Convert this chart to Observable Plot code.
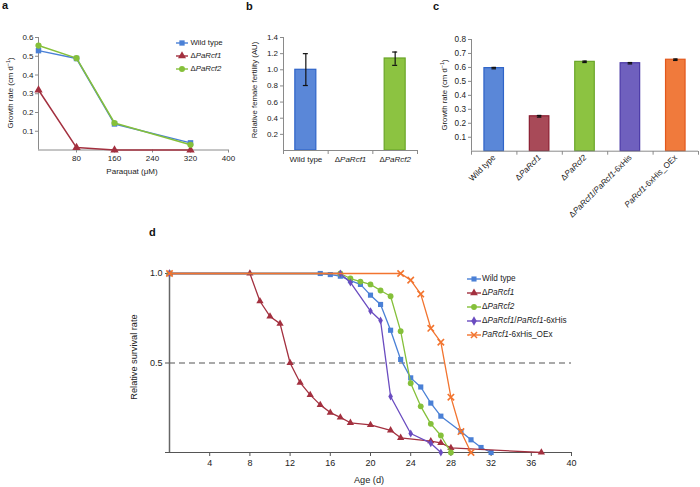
<!DOCTYPE html>
<html><head><meta charset="utf-8">
<script src="https://cdn.jsdelivr.net/npm/d3@7"></script>
<script src="https://cdn.jsdelivr.net/npm/@observablehq/plot@0.6"></script>
<style>
body{margin:0;background:#fff;}
#root{position:relative;width:700px;height:487px;font-family:"Liberation Sans",Arial,Helvetica,sans-serif;color:#222;overflow:hidden;background:#fff;}
.ytitle{position:absolute;white-space:nowrap;transform:translate(-50%,-50%) rotate(-90deg);line-height:1;}
.xtitle{position:absolute;white-space:nowrap;transform:translate(-50%,-50%);line-height:1;}
.letter{position:absolute;font-weight:bold;font-size:11px;line-height:11px;color:#111;}
.lg{position:absolute;white-space:nowrap;line-height:1;display:flex;align-items:center;}
sup{font-size:70%;vertical-align:super;line-height:0;}
</style></head><body><div id="root"></div>
<script>
// ---------- DATA ----------
// panel a: growth rate vs paraquat
const paraquat = [0, 80, 160, 320];
const growthA_wt = [0.53, 0.488, 0.139, 0.038];
const growthA_rcf1 = [0.32, 0.013, 0, 0];
const growthA_rcf2 = [0.557, 0.49, 0.144, 0.028];
const seriesA = ["Wild type", "ΔPaRcf1", "ΔPaRcf2"];

// panel b: relative female fertility
const fertCats = ["Wild type", "ΔPaRcf1", "ΔPaRcf2"];
const fertVals = [1.0, 0, 1.14];
const fertLo = [0.805, null, 1.055];
const fertHi = [1.2, null, 1.22];

// panel c: growth rate
const growthCats = ["Wild type", "ΔPaRcf1", "ΔPaRcf2", "ΔPaRcf1/PaRcf1-6xHis", "PaRcf1-6xHis_OEx"];
const growthVals = [0.595, 0.25, 0.64, 0.63, 0.655];
const growthErr = [0.005, 0.006, 0.005, 0.005, 0.005];

// panel d: survival
const seriesD = ["Wild type", "ΔPaRcf1", "ΔPaRcf2", "ΔPaRcf1/PaRcf1-6xHis", "PaRcf1-6xHis_OEx"];
const age_wt = [0, 15, 16, 17, 18, 19, 20, 21, 22, 23, 24, 25, 26, 27, 29, 30, 31, 32];
const surv_wt = [1, 1, 0.994, 0.985, 0.96, 0.939, 0.879, 0.827, 0.683, 0.52, 0.417, 0.366, 0.276, 0.203, 0.117, 0.071, 0.028, 0];
const age_rcf1 = [0, 8, 9, 10, 11, 12, 13, 14, 15, 16, 17, 18, 20, 22, 23, 26, 27, 28, 37];
const surv_rcf1 = [1, 1, 0.845, 0.76, 0.72, 0.5, 0.39, 0.322, 0.266, 0.223, 0.196, 0.166, 0.154, 0.124, 0.082, 0.063, 0.054, 0.026, 0];
const age_rcf2 = [0, 17, 18, 19, 20, 21, 22, 23, 24, 25, 26, 27, 28];
const surv_rcf2 = [1, 1, 0.972, 0.955, 0.939, 0.905, 0.873, 0.678, 0.387, 0.258, 0.16, 0.095, 0];
const age_comp = [0, 17, 18, 20, 21, 22, 24, 26, 27];
const surv_comp = [1, 1, 0.95, 0.79, 0.737, 0.313, 0.106, 0.052, 0];
const age_oex = [0, 23, 24, 25, 26, 27, 28, 29, 30];
const surv_oex = [1, 1, 0.963, 0.885, 0.694, 0.616, 0.309, 0.117, 0];
const ageTicks = [4, 8, 12, 16, 20, 24, 28, 32, 36, 40];

// ---------- STYLE ----------
const FONT = "'Liberation Sans', Arial, Helvetica, sans-serif";
const AX = "#8a8a8a";
const C_WT = "#4a80d6", C_R1 = "#a3303f", C_R2 = "#85c03a", C_CO = "#6a4cc0", C_OE = "#f2742f";
const barFillB = ["#5a87d8", "#a84a58", "#8cc341"];
const barStrokeB = ["#2f64c8", "#8a1d30", "#6aa528"];
const barFillC = ["#5a87d8", "#a84a58", "#8cc341", "#6f60be", "#f07a3c"];
const barStrokeC = ["#2f64c8", "#8a1d30", "#6aa528", "#4a38a6", "#e2581c"];

const root = document.getElementById("root");
function place(node, left, top) {
  node.style.position = "absolute"; node.style.left = left + "px"; node.style.top = top + "px";
  root.appendChild(node); return node;
}
function rich(s) {
  return s.replace(/(PaRcf\d)/g, "<i>$1</i>");
}
function italicize(svg) {
  svg.querySelectorAll("text").forEach(t => {
    const s = t.textContent;
    if (!/PaRcf/.test(s) || t.querySelector("tspan")) return;
    const parts = s.split(/(PaRcf\d)/);
    t.textContent = "";
    parts.forEach(p => {
      if (!p) return;
      const ts = document.createElementNS("http://www.w3.org/2000/svg", "tspan");
      if (/^PaRcf\d$/.test(p)) ts.setAttribute("font-style", "italic");
      ts.textContent = p; t.appendChild(ts);
    });
  });
}
function addText(cls, html, x, y, size) {
  const d = document.createElement("div");
  d.className = cls; d.innerHTML = html;
  d.style.left = x + "px"; d.style.top = y + "px"; d.style.fontSize = size + "px";
  root.appendChild(d); return d;
}
const symMap = {square: d3.symbolSquare, triangle: d3.symbolTriangle, circle: d3.symbolCircle, diamond: d3.symbolDiamond, times: d3.symbolTimes};
function addLegend(names, colors, symbols, x0, y0, dy, lineLen, gap, size, area) {
  names.forEach((n, i) => {
    const row = document.createElement("div");
    row.className = "lg";
    row.style.left = x0 + "px"; row.style.top = (y0 + i * dy - 6) + "px"; row.style.height = "12px";
    row.style.fontSize = size + "px";
    const svg = d3.create("svg").attr("width", lineLen).attr("height", 12).style("overflow", "visible").style("margin-right", gap + "px");
    svg.append("line").attr("x1", 0).attr("x2", lineLen).attr("y1", 6).attr("y2", 6).attr("stroke", colors[i]).attr("stroke-width", 1.4);
    const stroked = symbols[i] === "times";
    svg.append("path").attr("transform", `translate(${lineLen / 2},6)`)
      .attr("d", d3.symbol(symMap[symbols[i]], area)())
      .attr("fill", stroked ? "none" : colors[i]).attr("stroke", stroked ? colors[i] : "none").attr("stroke-width", 1.5);
    row.appendChild(svg.node());
    const sp = document.createElement("span"); sp.innerHTML = rich(n); row.appendChild(sp);
    root.appendChild(row);
  });
}
const baseStyle = size => ({fontFamily: FONT, fontSize: size + "px", color: "#222", background: "transparent", overflow: "visible"});

// ---------- PANEL A ----------
const symA = ["square", "triangle", "circle"];
const colA = [C_WT, C_R1, C_R2];
const valsA = [growthA_wt, growthA_rcf1, growthA_rcf2];
const plotA = Plot.plot({
  width: 240, height: 180, marginLeft: 38, marginRight: 12, marginTop: 37, marginBottom: 30.5,
  style: baseStyle(8),
  x: {domain: [0, 400]}, y: {domain: [0, 0.6]},
  marks: [
    Plot.ruleY([0], {stroke: AX}),
    Plot.ruleX([0], {stroke: AX}),
    Plot.axisX({ticks: [80, 160, 240, 320, 400], tickSize: 3, tickPadding: 2, stroke: AX, label: null}),
    Plot.axisY({ticks: [0.1, 0.2, 0.3, 0.4, 0.5, 0.6], tickSize: 3, tickPadding: 2, stroke: AX, label: null, tickFormat: d => d.toFixed(1)}),
    ...valsA.flatMap((v, i) => [
      Plot.line(paraquat, {x: paraquat, y: v, stroke: colA[i], strokeWidth: 1.5}),
      Plot.dot(paraquat, {x: paraquat, y: v, symbol: symA[i], fill: colA[i], r: 3.1})
    ])
  ]
});
place(plotA, 0, 0);
addText("ytitle", "Growth rate (cm d<sup>−1</sup>)", 11, 93, 7.8);
addText("xtitle", "Paraquat (μM)", 132, 172, 8);
addLegend(seriesA, colA, symA, 176, 42.7, 13.3, 12, 2.5, 7.8, 28);

// ---------- PANEL B ----------
const wB = 200, mlB = 53, mrB = 13, stepB = (wB - mlB - mrB) / fertCats.length;
const errB = fertCats.map((c, i) => ({c, lo: fertLo[i], hi: fertHi[i]})).filter(d => d.hi != null);
const plotB = Plot.plot({
  width: wB, height: 180, marginLeft: mlB, marginRight: mrB, marginTop: 37, marginBottom: 30,
  style: baseStyle(8),
  x: {domain: fertCats, paddingInner: 0.53, paddingOuter: 0.265, round: false},
  y: {domain: [0, 1.4]},
  color: {type: "identity"},
  marks: [
    Plot.barY(fertCats, {x: fertCats, y: fertVals, fill: barFillB, stroke: barStrokeB, strokeWidth: 1.2}),
    Plot.ruleY([0], {stroke: AX}),
    Plot.ruleX([fertCats[0]], {dx: -stepB / 2, stroke: AX}),
    Plot.ruleX(fertCats, {dx: -stepB / 2, stroke: AX, insetTop: 113, insetBottom: -4}),
    Plot.ruleX([fertCats[fertCats.length - 1]], {dx: stepB / 2, stroke: AX, insetTop: 113, insetBottom: -4}),
    Plot.axisX({tickSize: 0, tickPadding: 6, label: null}),
    Plot.axisY({ticks: [0.2, 0.4, 0.6, 0.8, 1.0, 1.2, 1.4], tickSize: 3, tickPadding: 2.5, stroke: AX, label: null, tickFormat: d => d.toFixed(1)}),
    Plot.ruleX(errB, {x: "c", y1: "lo", y2: "hi", stroke: "#111", strokeWidth: 1.2}),
    Plot.tickY(errB, {x: "c", y: "lo", stroke: "#111", strokeWidth: 1.2, insetLeft: 8, insetRight: 8}),
    Plot.tickY(errB, {x: "c", y: "hi", stroke: "#111", strokeWidth: 1.2, insetLeft: 8, insetRight: 8})
  ]
});
italicize(plotB);
place(plotB, 230, 0);
addText("ytitle", "Relative female fertility (AU)", 255, 90, 7.8);

// ---------- PANEL C ----------
const wC = 270, mlC = 41, mrC = 2, stepC = (wC - mlC - mrC) / growthCats.length;
const errC = growthCats.map((c, i) => ({c, lo: growthVals[i] - growthErr[i], hi: growthVals[i] + growthErr[i]}));
const plotC = Plot.plot({
  width: wC, height: 240, marginLeft: mlC, marginRight: mrC, marginTop: 39, marginBottom: 89.3,
  style: baseStyle(8.2),
  x: {domain: growthCats, paddingInner: 0.57, paddingOuter: 0.285, round: false},
  y: {domain: [0, 0.8]},
  color: {type: "identity"},
  marks: [
    Plot.barY(growthCats, {x: growthCats, y: growthVals, fill: barFillC, stroke: barStrokeC, strokeWidth: 1.2}),
    Plot.ruleY([0], {stroke: AX}),
    Plot.ruleX([growthCats[0]], {dx: -stepC / 2, stroke: AX}),
    Plot.ruleX(growthCats, {dx: -stepC / 2, stroke: AX, insetTop: 112, insetBottom: -4}),
    Plot.ruleX([growthCats[growthCats.length - 1]], {dx: stepC / 2, stroke: AX, insetTop: 112, insetBottom: -4}),
    Plot.axisX({tickSize: 0, tickPadding: 5, tickRotate: -45, label: null}),
    Plot.axisY({ticks: [0.1, 0.2, 0.3, 0.4, 0.5, 0.6, 0.7, 0.8], tickSize: 3, tickPadding: 2.5, stroke: AX, label: null, tickFormat: d => d.toFixed(1)}),
    Plot.ruleX(errC, {x: "c", y1: "lo", y2: "hi", stroke: "#111", strokeWidth: 3}),
    Plot.tickY(errC, {x: "c", y: "lo", stroke: "#111", strokeWidth: 1.2, insetLeft: 7.5, insetRight: 7.5}),
    Plot.tickY(errC, {x: "c", y: "hi", stroke: "#111", strokeWidth: 1.2, insetLeft: 7.5, insetRight: 7.5})
  ]
});
italicize(plotC);
place(plotC, 430, 0);
addText("ytitle", "Growth rate (cm d<sup>−1</sup>)", 445, 95, 7.8);

// ---------- PANEL D ----------
const agesD = [age_wt, age_rcf1, age_rcf2, age_comp, age_oex];
const survD = [surv_wt, surv_rcf1, surv_rcf2, surv_comp, surv_oex];
const colD = [C_WT, C_R1, C_R2, C_CO, C_OE];
const symD = ["square", "triangle", "circle", "diamond", "times"];
const rD = [2.9, 2.7, 2.9, 2.4, 3];
const plotD = Plot.plot({
  width: 700, height: 262, marginLeft: 169, marginRight: 129, marginTop: 48, marginBottom: 35,
  style: baseStyle(9),
  x: {domain: [0, 40]}, y: {domain: [0, 1]},
  marks: [
    Plot.ruleY([0.5], {stroke: "#555", strokeWidth: 1.2, strokeDasharray: "6,4"}),
    Plot.ruleY([0], {stroke: "#555", strokeWidth: 1.2}),
    Plot.ruleX([0], {stroke: "#666", strokeWidth: 1.5}),
    Plot.axisX({ticks: ageTicks, tickSize: 4, tickPadding: 3, stroke: "#555", label: null}),
    Plot.axisY({ticks: [0, 0.5, 1], tickSize: 4, tickPadding: 3, stroke: "#555", label: null, tickFormat: d => d ? d.toFixed(1) : ""}),
    ...agesD.flatMap((a, i) => [
      Plot.line(a, {x: a, y: survD[i], stroke: colD[i], strokeWidth: 1.3}),
      symD[i] === "times"
        ? Plot.dot(a, {x: a, y: survD[i], symbol: "times", stroke: colD[i], strokeWidth: 1.6, r: rD[i]})
        : Plot.dot(a, {x: a, y: survD[i], symbol: symD[i], fill: colD[i], r: rD[i]})
    ])
  ]
});
place(plotD, 0, 225);
addText("ytitle", "Relative survival rate", 135, 357, 9.2);
addText("xtitle", "Age (d)", 369, 481, 9.2);
addLegend(seriesD, colD, symD, 467, 279.3, 14, 14, 1, 8.2, 26);

// ---------- PANEL LETTERS ----------
addText("letter", "a", 2, 0, 11);
addText("letter", "b", 246, 1, 11);
addText("letter", "c", 433, 1, 11);
addText("letter", "d", 149, 227, 11);
</script></body></html>
